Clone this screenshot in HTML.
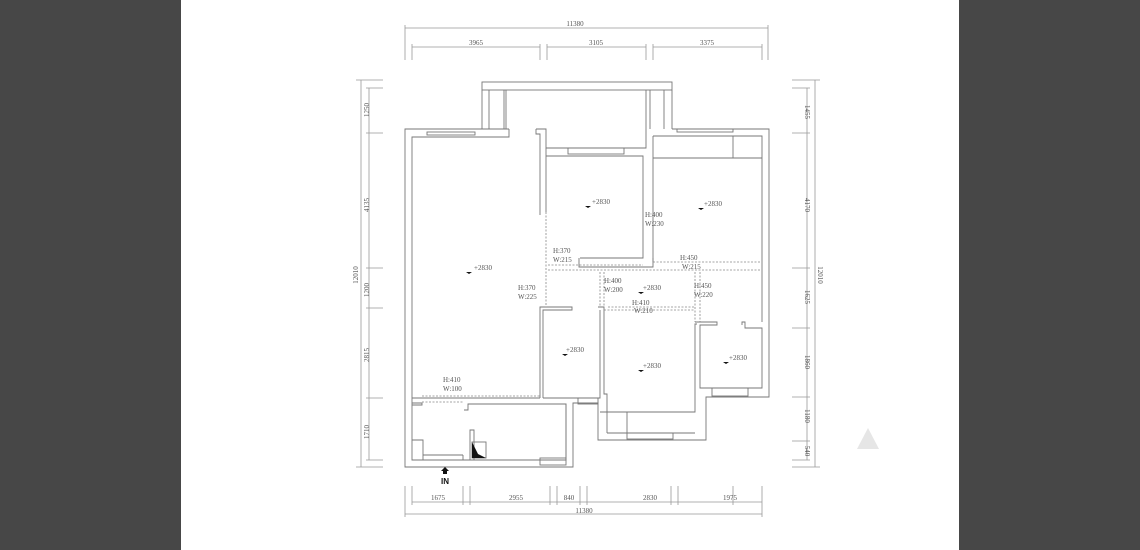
<!DOCTYPE html>
<html><head><meta charset="utf-8"><style>
html,body{margin:0;padding:0;width:1140px;height:550px;overflow:hidden;background:#474747}
#p{position:absolute;left:181px;top:0;width:778px;height:550px;background:#fff}
svg{position:absolute;left:0;top:0}
text{font-family:"Liberation Serif",serif;font-size:7px;fill:#555}
</style></head><body>
<div id="p"></div>
<svg width="1140" height="550" viewBox="0 0 1140 550">
<g stroke="#999" stroke-width="0.8" fill="none">
<line x1="405" y1="28" x2="768" y2="28"/><line x1="405" y1="25" x2="405" y2="60"/><line x1="768" y1="25" x2="768" y2="60"/>
<line x1="412" y1="47" x2="540" y2="47"/><line x1="547" y1="47" x2="646" y2="47"/><line x1="653" y1="47" x2="762" y2="47"/>
<line x1="412" y1="44" x2="412" y2="60"/><line x1="540" y1="44" x2="540" y2="60"/><line x1="547" y1="44" x2="547" y2="60"/><line x1="646" y1="44" x2="646" y2="60"/><line x1="653" y1="44" x2="653" y2="60"/><line x1="762" y1="44" x2="762" y2="60"/>
<line x1="361" y1="80" x2="361" y2="467"/><line x1="356" y1="80" x2="383" y2="80"/><line x1="356" y1="467" x2="383" y2="467"/>
<line x1="369" y1="88" x2="369" y2="460"/>
<line x1="366" y1="133" x2="383" y2="133"/><line x1="366" y1="268" x2="383" y2="268"/><line x1="366" y1="308" x2="383" y2="308"/><line x1="366" y1="398" x2="383" y2="398"/><line x1="366" y1="460" x2="383" y2="460"/><line x1="366" y1="88" x2="383" y2="88"/>
<line x1="815" y1="80" x2="815" y2="467"/><line x1="792" y1="80" x2="820" y2="80"/><line x1="792" y1="467" x2="820" y2="467"/>
<line x1="807" y1="88" x2="807" y2="460"/>
<line x1="792" y1="88" x2="810" y2="88"/><line x1="792" y1="133" x2="810" y2="133"/><line x1="792" y1="268" x2="810" y2="268"/><line x1="792" y1="328" x2="810" y2="328"/><line x1="792" y1="397" x2="810" y2="397"/><line x1="792" y1="441" x2="810" y2="441"/><line x1="792" y1="460" x2="810" y2="460"/>
<line x1="405" y1="514" x2="762" y2="514"/><line x1="405" y1="486" x2="405" y2="517"/><line x1="762" y1="486" x2="762" y2="517"/>
<line x1="412" y1="502" x2="762" y2="502"/>
<line x1="412" y1="486" x2="412" y2="505"/><line x1="463" y1="486" x2="463" y2="505"/><line x1="470" y1="486" x2="470" y2="505"/><line x1="550" y1="486" x2="550" y2="505"/><line x1="557" y1="486" x2="557" y2="505"/><line x1="580" y1="486" x2="580" y2="505"/><line x1="587" y1="486" x2="587" y2="505"/><line x1="671" y1="486" x2="671" y2="505"/><line x1="678" y1="486" x2="678" y2="505"/><line x1="733" y1="486" x2="733" y2="505"/>
</g>
<g stroke="#777" stroke-width="0.9" fill="none">
<rect x="482" y="82" width="190" height="8"/>
<line x1="482" y1="90" x2="482" y2="129"/><line x1="506" y1="90" x2="506" y2="129"/><line x1="489" y1="90" x2="489" y2="129"/><line x1="504" y1="90" x2="504" y2="129"/>
<line x1="646" y1="90" x2="646" y2="129"/><line x1="672" y1="90" x2="672" y2="129"/><line x1="650" y1="90" x2="650" y2="129"/><line x1="664" y1="90" x2="664" y2="129"/>
<polyline points="509,129 405,129 405,467 573,467 573,403 598,403 598,440 706,440 706,397 769,397 769,129 672,129"/>
<polyline points="509,129 509,137 412,137 412,460 566,460 566,404 556,404"/>
<rect x="427" y="132" width="48" height="3"/>
<polyline points="536,129 546,129 546,148 646,148 646,129"/>
<polyline points="536,129 536,134 540,134 540,215"/>
<polyline points="546,148 546,212"/>
<rect x="568" y="148" width="56" height="6"/>
<polyline points="546,156 643,156 643,258 580,258"/>
<polyline points="653,136 653,262"/>
<rect x="677" y="129" width="56" height="3"/>
<polyline points="653,136 762,136 762,262"/>
<line x1="733" y1="136" x2="733" y2="158"/><line x1="653" y1="158" x2="762" y2="158"/>
<polyline points="579,258 579,267 653,267 653,258"/>
<polyline points="543,398 543,310 572,310 572,307 540,307 540,398"/>
<polyline points="543,398 600,398 600,310"/>
<polyline points="598,307 604,307 604,394 607,394 607,412"/>
<polyline points="600,412 695,412 695,324 697,324"/>
<line x1="607" y1="412" x2="607" y2="433"/><line x1="627" y1="412" x2="627" y2="433"/><line x1="607" y1="433" x2="695" y2="433"/>
<rect x="627" y="433" width="46" height="6"/>
<polyline points="695,322 717,322 717,325 700,325 700,388 762,388 762,328 745,328 745,322 742,322 742,325"/>
<polyline points="762,262 762,322"/>
<rect x="712" y="388" width="36" height="8"/>
<rect x="578" y="398" width="20" height="6"/>
<polyline points="412,398 540,398"/>
<polyline points="412,405 422,405 422,403 412,403"/>
<polyline points="464,410 468,410 468,404 566,404 566,460"/>
<polyline points="412,440 423,440 423,460"/>
<line x1="423" y1="455" x2="463" y2="455"/><line x1="463" y1="455" x2="463" y2="460"/>
<polyline points="470,460 470,430 474,430 474,460"/>
<rect x="472" y="442" width="14" height="16"/>
<rect x="540" y="458" width="26" height="7"/>
</g>
<polygon points="472,442 472,458 486,458 478,454 474,446" fill="#111"/>
<g stroke="#888" stroke-width="0.8" stroke-dasharray="2,1.5" fill="none">
<line x1="546" y1="212" x2="546" y2="307"/><line x1="548" y1="265" x2="643" y2="265"/>
<line x1="548" y1="270" x2="762" y2="270"/><line x1="653" y1="262" x2="762" y2="262"/>
<line x1="600" y1="272" x2="600" y2="307"/><line x1="604" y1="272" x2="604" y2="307"/>
<line x1="604" y1="310" x2="695" y2="310"/><line x1="608" y1="307" x2="695" y2="307"/>
<line x1="695" y1="272" x2="695" y2="322"/><line x1="700" y1="272" x2="700" y2="322"/>
<line x1="422" y1="396" x2="540" y2="396"/><line x1="422" y1="402" x2="464" y2="402"/>
</g>
<g fill="#666">
<text x="575" y="26" text-anchor="middle">11380</text>
<text x="476" y="45" text-anchor="middle">3965</text><text x="596" y="45" text-anchor="middle">3105</text><text x="707" y="45" text-anchor="middle">3375</text>
<text x="584" y="513" text-anchor="middle">11380</text>
<text x="438" y="500" text-anchor="middle">1675</text><text x="516" y="500" text-anchor="middle">2955</text><text x="569" y="500" text-anchor="middle">840</text><text x="650" y="500" text-anchor="middle">2830</text><text x="730" y="500" text-anchor="middle">1975</text>
<text transform="translate(358,275) rotate(-90)" text-anchor="middle">12010</text>
<text transform="translate(369,110) rotate(-90)" text-anchor="middle">1250</text>
<text transform="translate(369,205) rotate(-90)" text-anchor="middle">4135</text>
<text transform="translate(369,290) rotate(-90)" text-anchor="middle">1200</text>
<text transform="translate(369,355) rotate(-90)" text-anchor="middle">2815</text>
<text transform="translate(369,432) rotate(-90)" text-anchor="middle">1710</text>
<text transform="translate(818,275) rotate(90)" text-anchor="middle">12010</text>
<text transform="translate(805,112) rotate(90)" text-anchor="middle">1455</text>
<text transform="translate(805,205) rotate(90)" text-anchor="middle">4170</text>
<text transform="translate(805,297) rotate(90)" text-anchor="middle">1625</text>
<text transform="translate(805,362) rotate(90)" text-anchor="middle">1860</text>
<text transform="translate(805,416) rotate(90)" text-anchor="middle">1180</text>
<text transform="translate(805,451) rotate(90)" text-anchor="middle">540</text>
<text x="553" y="253">H:370</text><text x="553" y="262">W:215</text>
<text x="518" y="290">H:370</text><text x="518" y="299">W:225</text>
<text x="645" y="217">H:400</text><text x="645" y="226">W:230</text>
<text x="680" y="260">H:450</text><text x="682" y="269">W:215</text>
<text x="604" y="283">H:400</text><text x="604" y="292">W:200</text>
<text x="632" y="305">H:410</text><text x="634" y="313">W:210</text>
<text x="694" y="288">H:450</text><text x="694" y="297">W:220</text>
<text x="443" y="382">H:410</text><text x="443" y="391">W:100</text>
<text x="474" y="270">+2830</text><text x="592" y="204">+2830</text><text x="704" y="206">+2830</text>
<text x="643" y="290">+2830</text><text x="566" y="352">+2830</text><text x="643" y="368">+2830</text><text x="729" y="360">+2830</text>
</g>
<g fill="#111">
<polygon points="466,272 472,272 469,274"/><polygon points="585,206 591,206 588,208"/><polygon points="698,208 704,208 701,210"/>
<polygon points="638,292 644,292 641,294"/><polygon points="562,354 568,354 565,356"/><polygon points="638,370 644,370 641,372"/><polygon points="723,362 729,362 726,364"/>
<polygon points="445,467 441,471 449,471"/><rect x="443" y="471" width="4" height="3"/>
<text x="445" y="484" text-anchor="middle" style="font-family:'Liberation Sans',sans-serif;font-weight:bold;font-size:8px;fill:#111">IN</text>
</g>
<polygon points="868,428 857,449 879,449" fill="#e6e6e6"/>
</svg>
</body></html>
